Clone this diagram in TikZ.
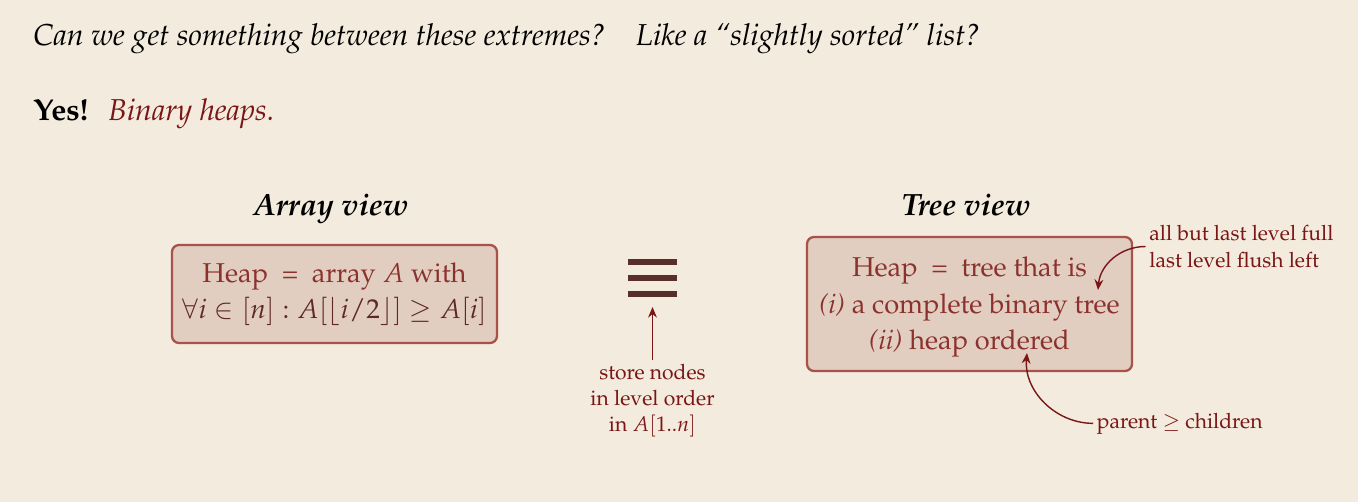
\documentclass[tikz,border=0pt]{standalone}
\usepackage[T1]{fontenc}
\usepackage{mathpazo}
\usepackage{amsmath,amssymb}
\usetikzlibrary{arrows.meta}

\definecolor{paper}{RGB}{243,235,221}
\definecolor{boxfill}{RGB}{226,206,193}
\definecolor{boxline}{RGB}{168,82,74}
\definecolor{heapred}{RGB}{140,50,45}
\definecolor{mathbrown}{RGB}{95,40,38}
\definecolor{notered}{RGB}{122,22,22}
\definecolor{eqbrown}{RGB}{90,46,42}

\tikzset{
  heapbox/.style={draw=boxline, fill=boxfill, line width=1.3pt, rounded corners=4pt,
    minimum width=6.5cm, align=center, text=heapred, font=\fontsize{15.5}{20.5}\selectfont},
  viewtitle/.style={font=\fontsize{17.5}{21}\selectfont\bfseries\itshape},
  bigtext/.style={inner sep=0pt, anchor=base west, font=\fontsize{17.2}{20}\selectfont},
  note/.style={text=notered, inner sep=2pt, font=\fontsize{12}{15}\selectfont},
  notearrow/.style={draw=notered, line width=0.8pt, -{Stealth[length=6pt,width=5pt]}}
}

\begin{document}
\begin{tikzpicture}[y=-1cm]
\fill[paper] (0,0) rectangle (27.16,10.04);
\useasboundingbox (0,0) rectangle (27.16,10.04);

% question and answer
\node[bigtext, font=\fontsize{17.2}{20}\selectfont\itshape] (ask) at (0.66,0.9)
  {Can we get something between these extremes?\quad Like a ``slightly sorted'' list?};
\node[bigtext, font=\fontsize{17.2}{20}\selectfont\bfseries] (yes) at (0.66,2.4) {Yes!};
\node[bigtext, font=\fontsize{17.2}{20}\selectfont\itshape, text=notered] (binheap) at (2.16,2.4) {Binary heaps.};

% array view
\node[viewtitle, anchor=base] (arrtitle) at (6.62,4.3) {Array view};
\node[heapbox, minimum height=1.96cm] (arr) at (6.69,5.88)
  {Heap \ = \ array $A$ with\\ \color{mathbrown}$\forall i\in[n] : A[\lfloor i/2\rfloor]\geq A[i]$};

% equivalence
\coordinate (eq) at (13.05,5.56);
\foreach \dy in {-0.32,0,0.32}
  \draw[eqbrown, line width=3.4pt] ([xshift=-0.49cm,yshift=\dy cm]eq) -- ([xshift=0.49cm,yshift=\dy cm]eq);
\node[note, align=center, anchor=north] (store) at (13.05,7.2)
  {store nodes\\ in level order\\ in $A[1..n]$};
\coordinate (eqfoot) at (13.05,6.14);
\draw[notearrow] (store.north) -- (eqfoot);

% tree view
\node[viewtitle, anchor=base] (treetitle) at (19.32,4.3) {Tree view};
\node[heapbox, minimum height=2.68cm] (tree) at (19.39,6.08) {};
\node[text=heapred, align=center, font=\fontsize{15.5}{20.5}\selectfont] (treetext) at (19.39,6.14)
  {Heap \ = \ tree that is\\ \textit{(i)} a complete binary tree\\ \textit{(ii)} heap ordered};

\node[note, align=left, anchor=west] (full) at (22.91,4.93)
  {all but last level full\\ last level flush left};
\coordinate (completetip) at (21.96,5.8);
\draw[notearrow] (full.west) to[out=180,in=85] (completetip);

\node[note, anchor=base west] (order) at (21.86,8.56) {parent $\geq$ children};
\coordinate (ordertip) at (20.54,7.06);
\draw[notearrow] (order.west) to[out=180,in=-95] (ordertip);
\end{tikzpicture}
\end{document}
